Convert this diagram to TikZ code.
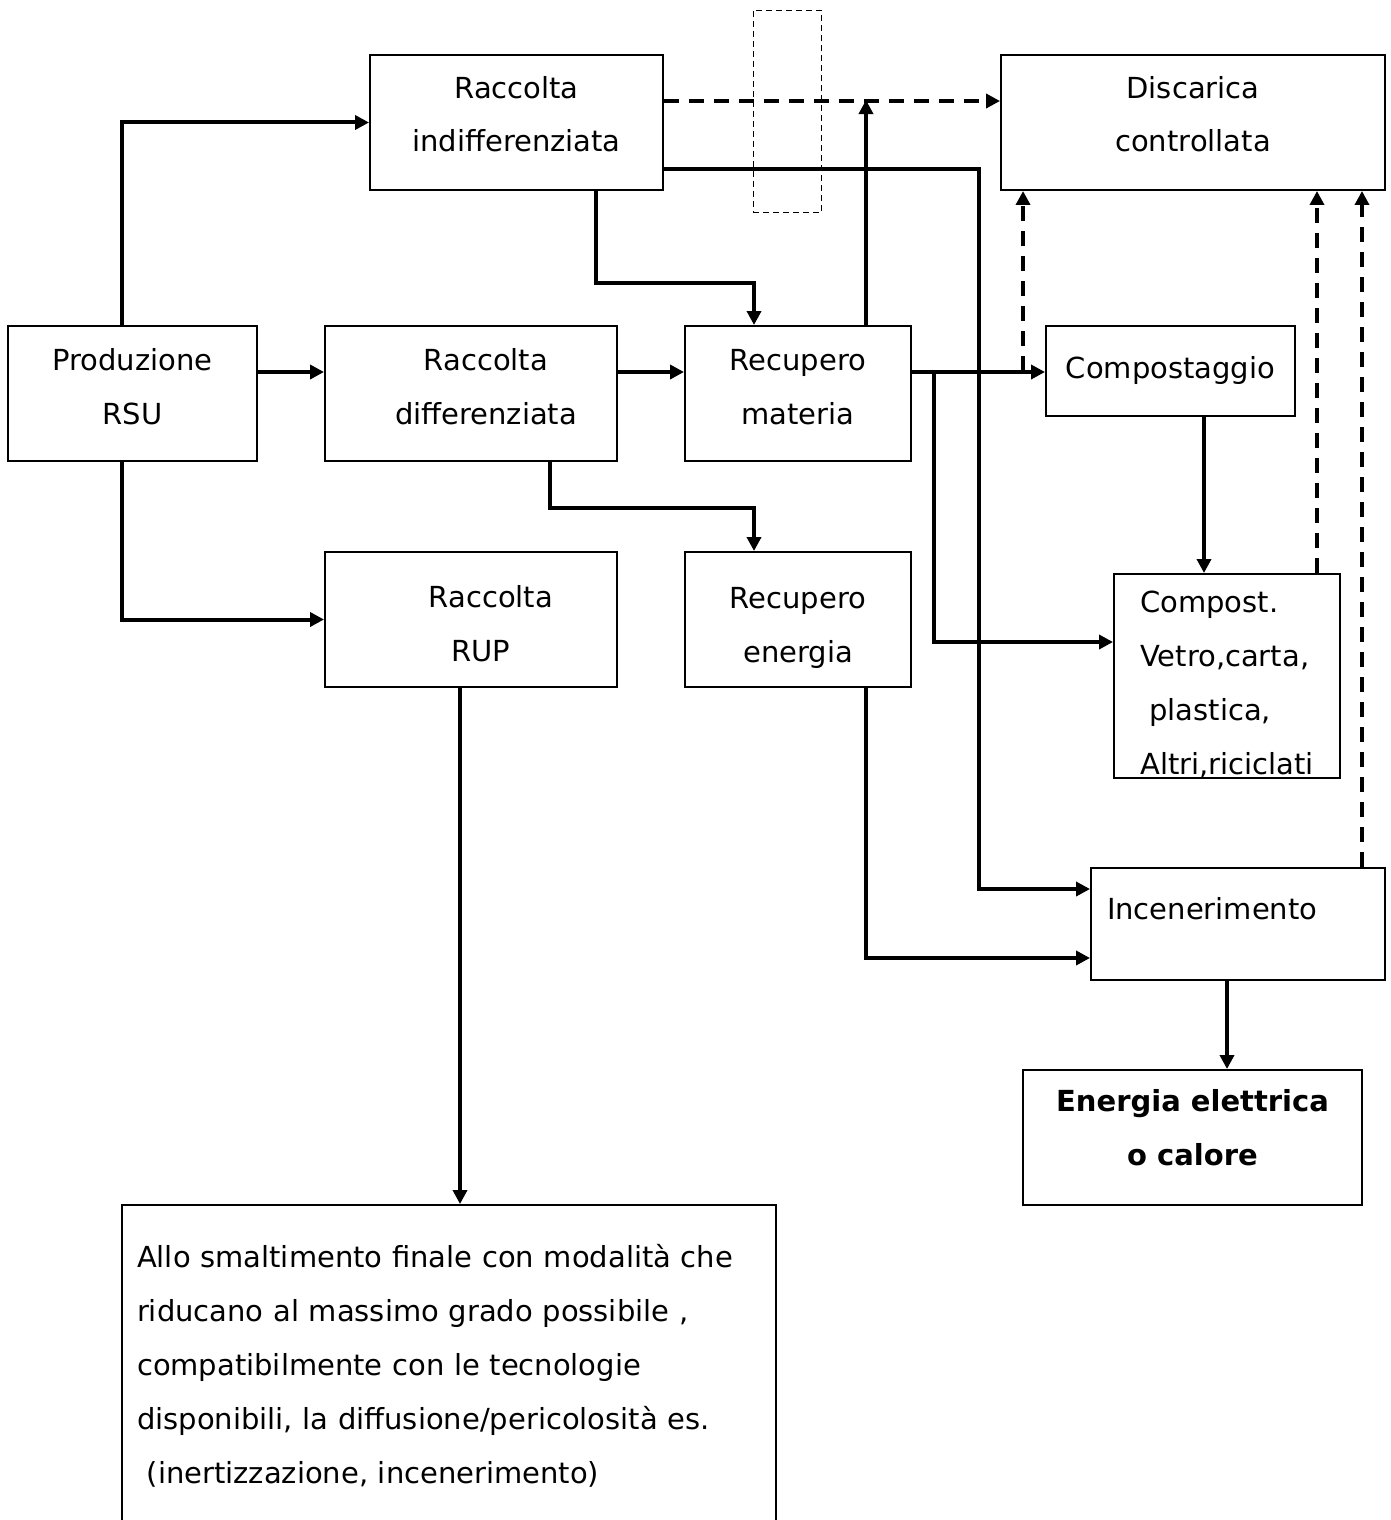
\documentclass[tikz,border=0pt]{standalone}
\usepackage{fontspec}
\setmainfont{DejaVu Sans}
\usetikzlibrary{arrows.meta}

\begin{document}
\begin{tikzpicture}[x = .02cm, y = -.02cm,
    blocco/.style = {draw, line width = .04cm, minimum height = 2.7cm, align = center, font = \fontsize{16.5}{30.7}\selectfont},
    freccia/.style = {-{Triangle[length = .28cm, width = .28cm]}, line width = .08cm},
    tratteggio/.style = {freccia, dash pattern = on .3cm off .2cm}]
    \useasboundingbox (0,0) rectangle (1390,1520);
    \fill[white] (0,0) rectangle (1390,1520);
    \node[blocco, minimum width = 5.86cm, text depth = .34cm] (indiff) at (516.5,122.5) {Raccolta\\indifferenziata};
    \node[blocco, minimum width = 7.68cm, text depth = .34cm] (disc) at (1193,122.5) {Discarica\\controllata};
    \node[blocco, minimum width = 4.98cm, text depth = .28cm] (prod) at (132.5,393.5) {Produzione\\RSU};
    \node[blocco, minimum width = 5.84cm, text depth = .28cm] (diff) at (471,393.5) {\hspace*{.6cm}Raccolta\\\hspace*{.6cm}differenziata};
    \node[blocco, minimum width = 4.52cm, text depth = .28cm] (mat) at (798,393.5) {Recupero\\materia};
    \node[blocco, minimum width = 4.98cm, minimum height = 1.8cm] (comp) at (1170.5,371) {Compostaggio};
    \node[blocco, minimum width = 5.84cm, text height = 1.7cm] (rup) at (471,619.5) {\hspace*{.8cm}Raccolta\\\hspace*{.4cm}RUP};
    \node[blocco, minimum width = 4.52cm, text height = 1.84cm] (ener) at (798,619.5) {Recupero\\energia};
    \node[blocco, minimum width = 4.52cm, minimum height = 4.08cm, align = left, inner ysep = 0pt, text height = 4cm] (ricicl) at (1227,676) {Compost.\\Vetro,carta,\\~plastica,\\Altri,riciclati};
    \node[blocco, minimum width = 5.88cm, minimum height = 2.24cm, text width = 5.24cm, inner xsep = .32cm, align = left, text depth = .64cm] (inc) at (1238,924) {Incenerimento};
    \node[blocco, minimum width = 6.78cm, text depth = .4cm, font = \fontsize{16.5}{30.7}\selectfont\bfseries] (elet) at (1192.5,1137.5) {Energia elettrica\\o calore};
    \node[blocco, minimum width = 13.08cm, minimum height = 6.44cm, text width = 12.48cm, inner xsep = .3cm, align = left] (smalt) at (449,1366) {Allo smaltimento finale con modalità che\\riducano al massimo grado possibile ,\\compatibilmente con le tecnologie\\disponibili, la diffusione/pericolosità es.\\~(inertizzazione, incenerimento)};
    \node[draw, line width = .02cm, dash pattern = on .12cm off .08cm, minimum width = 1.36cm, minimum height = 4.06cm] (varco) at (787,111.5) {};
    \draw[freccia] ([xshift = -.21cm]prod.north) |- (indiff.west);
    \draw[freccia] ([yshift = .43cm]prod.east) -- ([yshift = .43cm]diff.west);
    \draw[freccia] ([xshift = -.21cm]prod.south) |- (rup.west);
    \draw[freccia] ([yshift = .43cm]diff.east) -- ([yshift = .43cm]mat.west);
    \draw[freccia] ([xshift = 1.59cm]indiff.south) -- ++(0,92) -| ([xshift = -.88cm]mat.north);
    \draw[freccia] ([xshift = 1.58cm]diff.south) -- ++(0,46) -| ([xshift = -.88cm]ener.north);
    \draw[tratteggio] ([yshift = .43cm]indiff.east) -- ([yshift = .43cm]disc.west);
    \draw[freccia] ([xshift = 1.36cm]mat.north) -- ++(0,-225);
    \draw[freccia] ([yshift = -.93cm]indiff.east) -- ++(315,0) |- ([yshift = .7cm]inc.west);
    \draw[freccia] ([yshift = .43cm]mat.east) -- ([yshift = .43cm]mat.east -| comp.west);
    \draw[freccia] ([xshift = .44cm, yshift = .43cm]mat.east) |- ([yshift = .68cm]ricicl.west);
    \draw[freccia] ([xshift = 1.36cm]ener.south) |- ([yshift = -.68cm]inc.west);
    \draw[freccia] ([xshift = .67cm]comp.south) -- ([xshift = .67cm]comp.south |- ricicl.north);
    \draw[freccia] ([xshift = -.22cm]inc.south) -- ([xshift = -.22cm]inc.south |- elet.north);
    \draw[freccia] ([xshift = -.22cm]rup.south) -- ([xshift = -.22cm]rup.south |- smalt.north);
    \draw[tratteggio] ([xshift = -3.4cm]disc.south |- comp.west) -- ([xshift = -3.4cm]disc.south);
    \draw[tratteggio] ([xshift = 1.8cm]ricicl.north) -- ([xshift = 1.8cm]ricicl.north |- disc.south);
    \draw[tratteggio] ([xshift = 2.48cm]inc.north) -- ([xshift = 2.48cm]inc.north |- disc.south);
\end{tikzpicture}
\end{document}
